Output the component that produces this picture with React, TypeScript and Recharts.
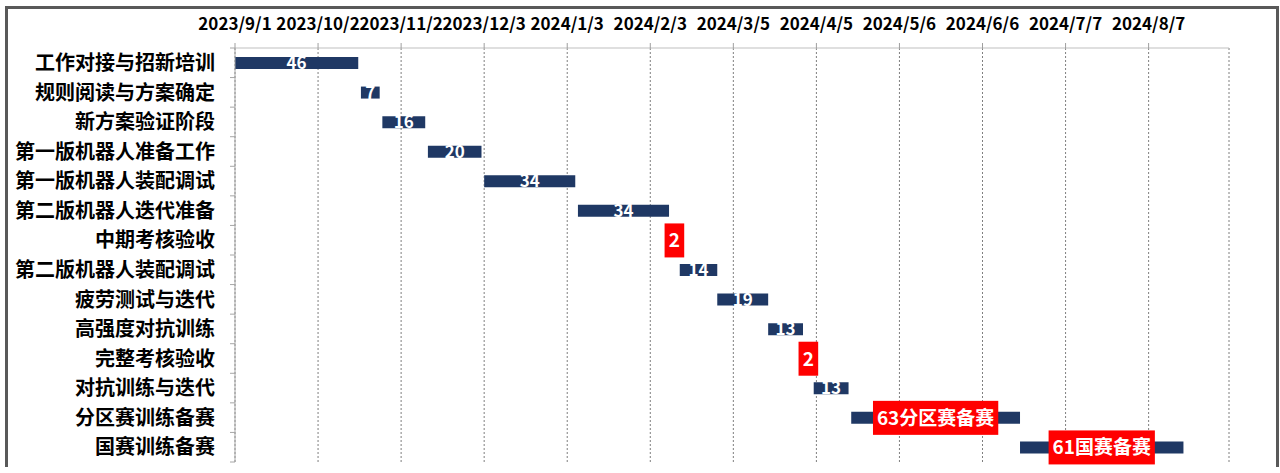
import React from "react";
import { Bar, BarChart, CartesianGrid, LabelList, XAxis, YAxis } from "recharts";

const categories = [
  "工作对接与招新培训",
  "规则阅读与方案确定",
  "新方案验证阶段",
  "第一版机器人准备工作",
  "第一版机器人装配调试",
  "第二版机器人迭代准备",
  "中期考核验收",
  "第二版机器人装配调试",
  "疲劳测试与迭代",
  "高强度对抗训练",
  "完整考核验收",
  "对抗训练与迭代",
  "分区赛训练备赛",
  "国赛训练备赛",
];

// days after 2023/9/1
const startDays = [0, 47, 55, 72, 93, 128, 163, 166, 180, 199, 213, 216, 230, 293];
const durations = [46, 7, 16, 20, 34, 34, 2, 14, 19, 13, 2, 13, 63, 61];
const barLabels = ["46", "7", "16", "20", "34", "34", "2", "14", "19", "13", "2", "13", "63分区赛备赛", "61国赛备赛"];
const highlighted = [false, false, false, false, false, false, true, false, false, false, true, false, true, true];

const tickDays = [0, 31, 62, 93, 124, 155, 186, 217, 248, 279, 310, 341];
const tickLabels = [
  "2023/9/1",
  "2023/10/2",
  "2023/11/2",
  "2023/12/3",
  "2024/1/3",
  "2024/2/3",
  "2024/3/5",
  "2024/4/5",
  "2024/5/6",
  "2024/6/6",
  "2024/7/7",
  "2024/8/7",
];
const dayDomain = [0, 371];

const data = categories.map((name, i) => ({
  name,
  start: startDays[i],
  days: durations[i],
  label: barLabels[i],
}));

const FONT = "'Noto Sans CJK SC', 'Noto Sans', sans-serif";
const NAVY = "#1f3864";
const AXIS_GRAY = "#a6a6a6";

function textWidth(text: string, fs: number) {
  let w = 0;
  for (const ch of text) w += /[\u4e00-\u9fff]/.test(ch) ? fs : fs * 0.56;
  return w;
}

function BarLabel(props: any) {
  const vb = props.viewBox ?? props;
  const { x, y, width, height } = vb;
  const idx = props.index;
  const text = String(props.value ?? "");
  const hl = idx != null ? highlighted[idx] : text.length > 2 || text === "2";
  const cx = x + width / 2;
  const cy = y + height / 2;
  if (hl) {
    const fs = 19;
    const w = textWidth(text, fs) + 9;
    const h = 34;
    return (
      <g>
        <rect x={cx - w / 2} y={cy - h / 2} width={w} height={h} fill="#ff0000" />
        <text x={cx} y={cy} dy="0.36em" textAnchor="middle" fill="#fff" fontSize={fs} fontWeight="bold" fontFamily={FONT}>
          {text}
        </text>
      </g>
    );
  }
  return (
    <text x={cx} y={cy} dy="0.36em" textAnchor="middle" fill="#fff" fontSize={17} fontWeight="bold" fontFamily={FONT}>
      {text}
    </text>
  );
}

// category label plus Excel-style tick marks on the band edges
function RowTick(props: any) {
  const { x, y, payload, index } = props;
  const half = payload?.offset ?? 0;
  const axisX = x + 20;
  return (
    <g>
      <text x={x} y={y} dy="0.36em" textAnchor="end" fill="#000" fontSize={20} fontWeight="bold" fontFamily={FONT}>
        {payload.value}
      </text>
      {index === 0 && <line x1={axisX - 5} x2={axisX} y1={y - half} y2={y - half} stroke={AXIS_GRAY} />}
      <line x1={axisX - 5} x2={axisX} y1={y + half} y2={y + half} stroke={AXIS_GRAY} />
    </g>
  );
}

export default function App() {
  return (
    <div style={{ position: "absolute", left: 0, top: 0, width: 1280, height: 473, background: "#fff" }}>
      <div
        style={{
          position: "absolute",
          left: 5,
          top: 6,
          width: 1274,
          height: 461,
          boxSizing: "border-box",
          border: "3px solid #595959",
          borderBottom: "none",
        }}
      />
      <div style={{ position: "absolute", left: 0, top: 0 }}>
        <BarChart
          width={1280}
          height={473}
          data={data}
          layout="vertical"
          margin={{ top: 0, right: 51, bottom: 11, left: 0 }}
          style={{ fontFamily: FONT }}
        >
          <CartesianGrid vertical horizontal={false} stroke="#7f7f7f" strokeDasharray="2 2" />
          <XAxis
            type="number"
            orientation="top"
            domain={dayDomain}
            ticks={tickDays}
            interval={0}
            height={48}
            tickSize={5}
            tickMargin={13}
            tickFormatter={(v: number) => tickLabels[tickDays.indexOf(v)] ?? ""}
            tick={{ fill: "#000", fontSize: 17, fontWeight: "bold" }}
            axisLine={{ stroke: "#bfbfbf" }}
            tickLine={{ stroke: "#9f9f9f" }}
          />
          <YAxis
            type="category"
            dataKey="name"
            width={235}
            interval={0}
            tickLine={false}
            axisLine={{ stroke: AXIS_GRAY }}
            tickSize={5}
            tickMargin={15}
            tick={<RowTick />}
          />
          <Bar dataKey="start" stackId="a" fill="transparent" barSize={12} isAnimationActive={false} />
          <Bar dataKey="days" stackId="a" fill={NAVY} barSize={12} isAnimationActive={false}>
            <LabelList dataKey="label" content={BarLabel} />
          </Bar>
        </BarChart>
      </div>
    </div>
  );
}
